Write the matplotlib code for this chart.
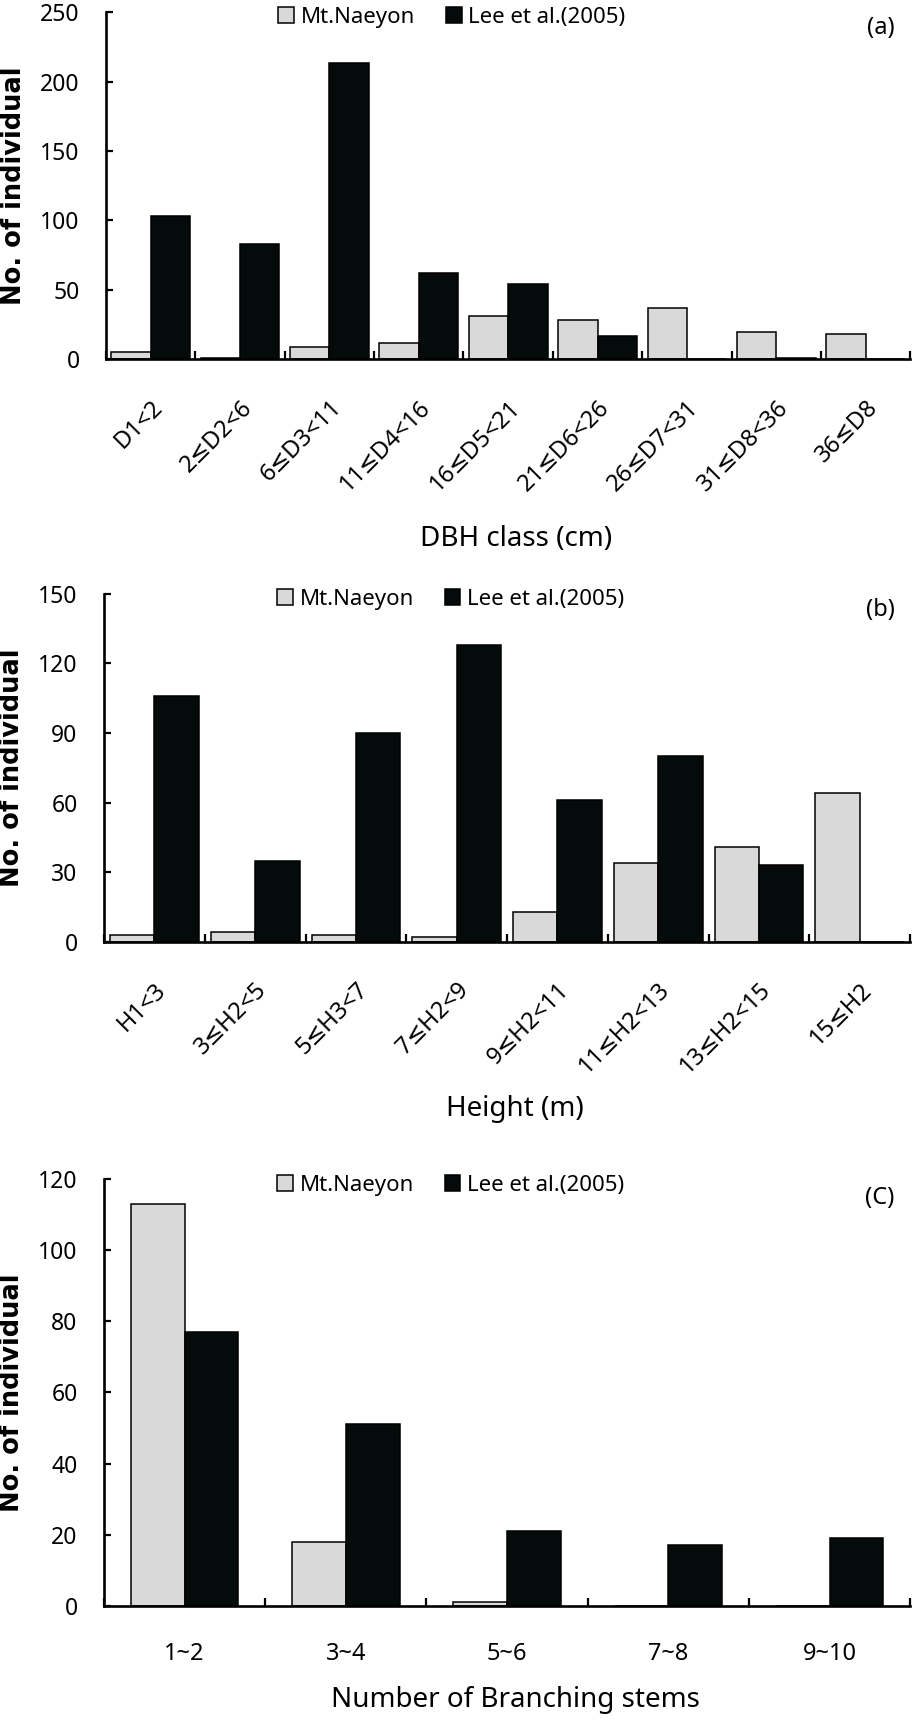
import numpy as np
import matplotlib
matplotlib.use("Agg")
import matplotlib.pyplot as plt
from matplotlib.patches import Patch

plt.rcParams['font.family'] = ['Noto Sans', 'DejaVu Sans']

# (a) DBH class
dbh_classes = ['D1<2', '2≤D2<6', '6≤D3<11', '11≤D4<16', '16≤D5<21',
               '21≤D6<26', '26≤D7<31', '31≤D8<36', '36≤D8']
dbh_naeyon = [5, 1, 9, 12, 31, 28, 37, 20, 18]
dbh_lee = [103, 83, 213, 62, 54, 17, 0, 1, 0]

# (b) Height class
height_classes = ['H1<3', '3≤H2<5', '5≤H3<7', '7≤H2<9', '9≤H2<11',
                  '11≤H2<13', '13≤H2<15', '15≤H2']
height_naeyon = [3, 4, 3, 2, 13, 34, 41, 64]
height_lee = [106, 35, 90, 128, 61, 80, 33, 0]

# (c) branching stems
stem_classes = ['1~2', '3~4', '5~6', '7~8', '9~10']
stem_naeyon = [113, 18, 1, 0, 0]
stem_lee = [77, 51, 21, 17, 19]

gray = '#d9d9d9'
black = '#050a0a'

fig = plt.figure(figsize=(9.14, 17.22), dpi=100)

panels = [
    # left, bottom, width, height
    ([0.116, 0.7913, 0.880, 0.2017], dbh_classes, dbh_naeyon, dbh_lee,
     250, 50, 0.44, 'DBH class (cm)', -0.516, '(a)', 45),
    ([0.1138, 0.4531, 0.882, 0.2020], height_classes, height_naeyon, height_lee,
     150, 30, 0.44, 'Height (m)', -0.482, '(b)', 45),
    ([0.1138, 0.0675, 0.882, 0.2478], stem_classes, stem_naeyon, stem_lee,
     120, 20, 0.333, 'Number of Branching stems', -0.221, '(C)', 0),
]

for rect, cats, naeyon, lee, ymax, ystep, w, xlabel, xlab_y, tag, rot in panels:
    ax = fig.add_axes(rect)
    x = np.arange(len(cats))
    ax.bar(x - w / 2, naeyon, w, color=gray, edgecolor='black', linewidth=1.1,
           label='Mt.Naeyon', zorder=2)
    ax.bar(x + w / 2, lee, w, color=black, edgecolor='black', linewidth=1.1,
           label='Lee et al.(2005)', zorder=2)

    ax.set_xlim(-0.5, len(cats) - 0.5)
    ax.set_ylim(0, ymax)
    yt = np.arange(0, ymax + 1, ystep)
    ax.set_yticks(yt)
    ax.set_yticklabels([str(v) for v in yt], fontweight='bold', fontsize=16.5)

    for s in ['top', 'right']:
        ax.spines[s].set_visible(False)
    for s in ['left', 'bottom']:
        ax.spines[s].set_linewidth(1.9)

    ax.tick_params(axis='y', direction='in', length=5, width=1.6, pad=19)
    # category boundaries as small inward ticks
    ax.set_xticks(np.arange(-0.5, len(cats)), minor=True)
    ax.tick_params(axis='x', which='minor', direction='in', length=6, width=1.6)
    ax.set_xticks(x)
    if rot:
        ax.set_xticklabels(cats, rotation=45, ha='right', va='top',
                           rotation_mode='anchor')
    else:
        ax.set_xticklabels(cats)
    ax.tick_params(axis='x', which='major', length=0, labelsize=17, pad=26)

    ax.set_ylabel('No. of individual', fontsize=18.5, fontweight='bold',
                  family='DejaVu Sans', va='center')
    ax.yaxis.set_label_coords(-0.114, 0.5)
    ax.set_xlabel(xlabel, fontsize=20, va='center')
    ax.xaxis.set_label_coords(0.51, xlab_y)

    handles = [Patch(facecolor=gray, edgecolor='black', linewidth=1.1),
               Patch(facecolor=black, edgecolor='black', linewidth=1.1)]
    ax.legend(handles, ['Mt.Naeyon', 'Lee et al.(2005)'], loc='center',
              bbox_to_anchor=(0.43, 0.985), ncol=2, frameon=False, fontsize=16,
              handlelength=0.7, handleheight=0.7, handletextpad=0.3,
              columnspacing=1.4)
    ax.text(0.981, 0.955, tag, transform=ax.transAxes, ha='right', va='center',
            fontsize=17)

fig.savefig('out.png', dpi=100)
